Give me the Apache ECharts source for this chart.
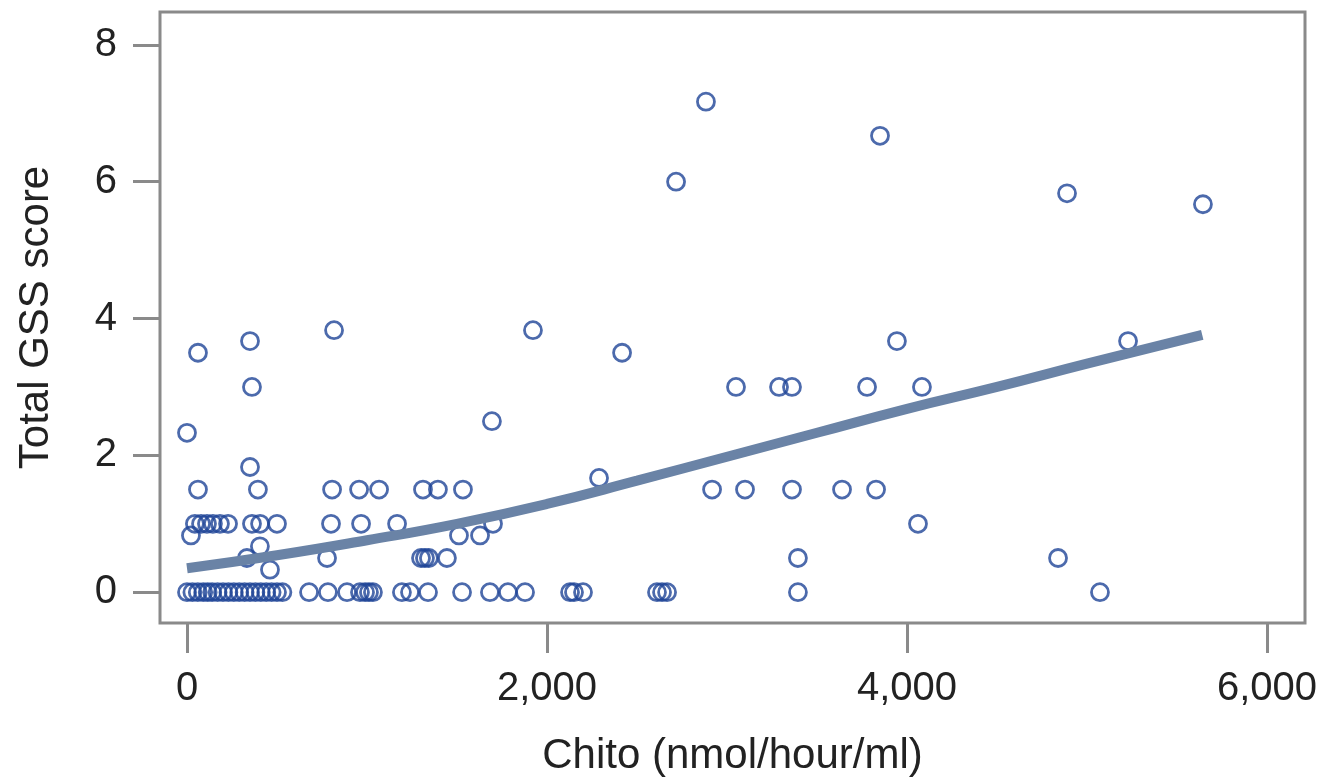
<!DOCTYPE html>
<html>
	<head>
		<meta charset="utf-8">
		<title>Chito vs Total GSS score</title>
		<script src="https://cdn.jsdelivr.net/npm/echarts@6/dist/echarts.min.js"></script>
		<style>
			html, body { margin: 0; padding: 0; background: #fff; }
			#main { width: 1328px; height: 782px; }
		</style>
	</head>
	<body>
		<div id="main"></div>
		<script>
			// scatter points: chito (nmol/hour/ml) and total GSS score
			var chitoX = [
				// score 0
				0, 30, 60, 90, 115, 140, 170, 200, 230, 260, 290, 320, 350, 380, 410, 440, 470, 500, 530,
				678, 783, 889, 961, 989, 1011, 1033, 1194, 1239, 1339, 1528, 1683, 1783, 1878,
				2128, 2150, 2200, 2611, 2639, 2667, 3394, 5072,
				// 0.33 .. 0.83
				461,
				333, 778, 1300, 1322, 1344, 1444, 3394, 4839,
				405,
				22, 1511, 1628,
				// score 1
				44, 78, 111, 144, 183, 228, 361, 406, 500, 800, 967, 1167, 1700, 4061,
				// score 1.5
				61, 394, 806, 956, 1067, 1311, 1394, 1533, 2917, 3100, 3361, 3639, 3828,
				// higher scores
				350, 2289, 0, 1694, 361, 3050, 3289, 3361, 3778, 4083,
				61, 2417, 350, 3944, 5228, 817, 1922,
				5644, 4889, 2717, 3850, 2883
			];
			var gssY = [
				0, 0, 0, 0, 0, 0, 0, 0, 0, 0, 0, 0, 0, 0, 0, 0, 0, 0, 0,
				0, 0, 0, 0, 0, 0, 0, 0, 0, 0, 0, 0, 0, 0,
				0, 0, 0, 0, 0, 0, 0, 0,
				0.33,
				0.5, 0.5, 0.5, 0.5, 0.5, 0.5, 0.5, 0.5,
				0.67,
				0.83, 0.83, 0.83,
				1, 1, 1, 1, 1, 1, 1, 1, 1, 1, 1, 1, 1, 1,
				1.5, 1.5, 1.5, 1.5, 1.5, 1.5, 1.5, 1.5, 1.5, 1.5, 1.5, 1.5, 1.5,
				1.83, 1.67, 2.33, 2.5, 3, 3, 3, 3, 3, 3,
				3.5, 3.5, 3.67, 3.67, 3.67, 3.83, 3.83,
				5.67, 5.83, 6, 6.67, 7.17
			];
			// smoothed trend curve
			var trendX = [0, 500, 1000, 1500, 2000, 2500, 3000, 3500, 4000, 4500, 5000, 5640];
			var trendY = [0.35, 0.54, 0.76, 1.0, 1.29, 1.63, 1.98, 2.33, 2.68, 3.0, 3.34, 3.76];
			var xTicks = [0, 2000, 4000, 6000];
			var yTicks = [0, 2, 4, 6, 8];

			var points = [];
			for (var i = 0; i < chitoX.length; i++) {
				points.push([chitoX[i], gssY[i]]);
			}
			var trend = [];
			for (var j = 0; j < trendX.length; j++) {
				trend.push([trendX[j], trendY[j]]);
			}

			var font = 'Liberation Sans, Arial, sans-serif';
			var myChart = echarts.init(document.getElementById('main'));
			var option = {
				animation: false,
				grid: {
					left: 160, right: 23, top: 12, bottom: 157,
					show: true,
					borderColor: '#8a8a8a',
					borderWidth: 3
				},
				xAxis: {
					type: 'value',
					position: 'bottom',
					min: -150, max: 6211,
					name: 'Chito (nmol/hour/ml)',
					nameLocation: 'middle',
					nameGap: 112,
					nameTextStyle: { fontFamily: font, fontSize: 42, color: '#222' },
					axisLine: { show: false, onZero: false },
					axisTick: {
						show: true, inside: false, length: 30, customValues: xTicks,
						lineStyle: { color: '#8a8a8a', width: 3 }
					},
					axisLabel: {
						customValues: xTicks, margin: 46,
						fontFamily: font, fontSize: 40, color: '#222',
						formatter: function (v) { return v.toLocaleString('en-US'); }
					},
					splitLine: { show: false }
				},
				yAxis: {
					type: 'value',
					position: 'left',
					min: -0.45, max: 8.48,
					name: 'Total GSS score',
					nameLocation: 'middle',
					nameGap: 103,
					nameTextStyle: { fontFamily: font, fontSize: 42, color: '#222' },
					axisLine: { show: false, onZero: false },
					axisTick: {
						show: true, inside: false, length: 27, customValues: yTicks,
						lineStyle: { color: '#8a8a8a', width: 3 }
					},
					axisLabel: {
						customValues: yTicks, margin: 43,
						fontFamily: font, fontSize: 40, color: '#222'
					},
					splitLine: { show: false }
				},
				series: [
					{
						name: 'GSS',
						type: 'scatter',
						data: points,
						symbol: 'circle',
						symbolSize: 17,
						itemStyle: {
							color: 'rgba(0,0,0,0)',
							borderColor: '#1f4597',
							borderWidth: 2.8
						},
						z: 2
					},
					{
						name: 'trend',
						type: 'line',
						data: trend,
						smooth: true,
						showSymbol: false,
						lineStyle: { color: '#6a83a6', width: 10 },
						z: 3
					}
				]
			};
			myChart.setOption(option);
		</script>
	</body>
</html>
